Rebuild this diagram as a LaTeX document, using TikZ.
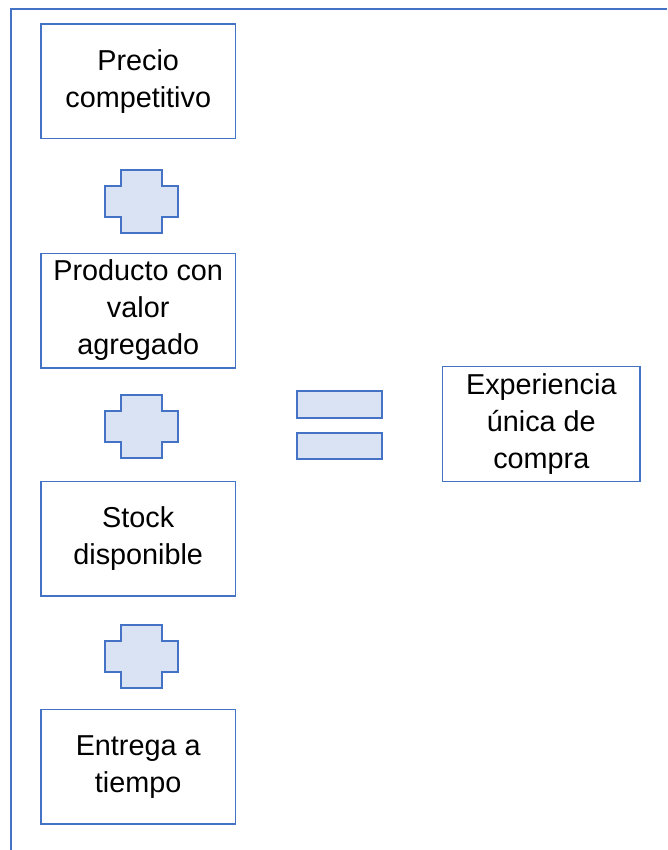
\documentclass[tikz,border=0pt]{standalone}
\usepackage{fontspec}
\setmainfont{Liberation Sans}
\definecolor{boxblue}{HTML}{4472C4}
\definecolor{plusfill}{HTML}{DAE3F3}
\tikzset{
  factor/.style={draw=boxblue, line width=1.5pt, minimum width=194.5pt,
    minimum height=114.5pt, inner sep=0pt, align=center,
    font=\fontsize{28.8}{37}\selectfont},
  bar/.style={draw=boxblue, fill=plusfill, line width=2pt,
    minimum width=85pt, minimum height=26.7pt, inner sep=0pt},
  plusmark/.pic={
    \draw[boxblue, fill=plusfill, line width=2pt]
      (-36.5,-15.5) -- (-20.5,-15.5) -- (-20.5,-31.5) -- (20.5,-31.5)
      -- (20.5,-15.5) -- (36.5,-15.5) -- (36.5,15.5) -- (20.5,15.5)
      -- (20.5,31.5) -- (-20.5,31.5) -- (-20.5,15.5) -- (-36.5,15.5) -- cycle;
  }
}
\begin{document}
\begin{tikzpicture}[x=1pt, y=-1pt]
\useasboundingbox (0,0) rectangle (667,850);

% frame
\draw[boxblue, line width=2pt] (11,850) -- (11,9.5) -- (667,9.5);

% left column
\node[factor] (precio) at (138.2,81.4) {Precio\\competitivo};
\node[factor] (producto) at (138.2,310.5) {Producto con\\valor\\agregado};
\node[factor] (stock) at (138.2,538.9) {Stock\\disponible};
\node[factor] (entrega) at (138.2,766.8) {Entrega a\\tiempo};

\pic at (141.2,201.5) {plusmark};
\pic at (141.2,426.7) {plusmark};
\pic at (141.2,656.7) {plusmark};

% equals sign
\node[bar] (eqtop) at (339.2,404.3) {};
\node[bar] (eqbot) at (339.2,446) {};

% result
\node[factor, minimum width=197.3pt, minimum height=115pt] (experiencia) at (541.3,424.2) {Experiencia\\única de\\compra};
\end{tikzpicture}
\end{document}
